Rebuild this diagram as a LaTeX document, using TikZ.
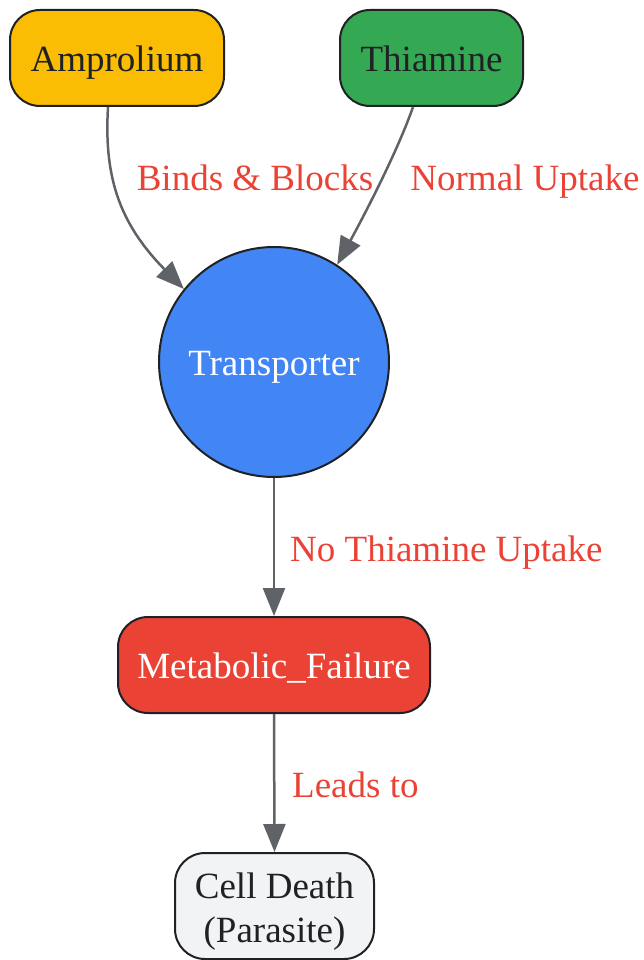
\documentclass[tikz,border=0pt]{standalone}
\usepackage{fontspec}
\setmainfont{Liberation Serif}
\usetikzlibrary{arrows.meta}
\definecolor{bordc}{HTML}{202124}
\definecolor{edgec}{HTML}{5F6368}
\definecolor{labc}{HTML}{EA4335}
\definecolor{ampc}{HTML}{FBBC04}
\definecolor{thic}{HTML}{34A853}
\definecolor{trc}{HTML}{4285F4}
\definecolor{metc}{HTML}{EA4335}
\definecolor{celc}{HTML}{F1F3F4}
\tikzset{
  bigfont/.style={font=\fontsize{37}{44}\selectfont},
  box/.style={draw=bordc, line width=2pt, rounded corners=30pt, inner sep=0pt, align=center,
    bigfont, text height=34.5pt, text depth=8pt},
  edge/.style={draw=edgec, line width=2.5pt, -{Triangle[length=28pt,width=22pt]}},
  elabel/.style={text=labc, bigfont, inner sep=0pt, anchor=base}
}
\begin{document}
\begin{tikzpicture}[x=1pt,y=-1pt]
\useasboundingbox (0,0) rectangle (644,960);
\node[box, fill=ampc, text=bordc, minimum width=214pt, minimum height=96pt] (amp) at (117,58) {Amprolium};
\node[box, fill=thic, text=bordc, minimum width=183pt, minimum height=96pt] (thi) at (431.5,58) {Thiamine};
\node[circle, draw=bordc, line width=2pt, fill=trc, text=white, minimum size=230pt, inner sep=0pt,
  bigfont, text height=34.5pt, text depth=8pt] (tr) at (274,362) {Transporter};
\node[box, fill=metc, text=white, minimum width=312pt, minimum height=96pt] (met) at (274,665) {Metabolic\_Failure};
\node[box, fill=celc, minimum width=199pt, minimum height=106pt] (cel) at (274.5,906) {};
\node[text=bordc, bigfont, inner sep=0pt, anchor=base] (cel1) at (274.5,898) {Cell Death};
\node[text=bordc, bigfont, inner sep=0pt, anchor=base] (cel2) at (274.5,942) {(Parasite)};
\draw[edge] ([xshift=-9pt]amp.south) .. controls (104,175) and (118,222) .. (tr.141);
\draw[edge] ([xshift=-18.5pt]thi.south) .. controls (398,150) and (366,212) .. (tr.57);
\draw[edge] (tr.south) -- (met.north);
\draw[edge] (met.south) -- (cel.north);
\node[elabel] (l1) at (255,190) {Binds \& Blocks};
\node[elabel] (l2) at (525,190) {Normal Uptake};
\node[elabel, anchor=base west] (l3) at (290,561) {No Thiamine Uptake};
\node[elabel, anchor=base west] (l4) at (292,797) {Leads to};
\end{tikzpicture}
\end{document}
